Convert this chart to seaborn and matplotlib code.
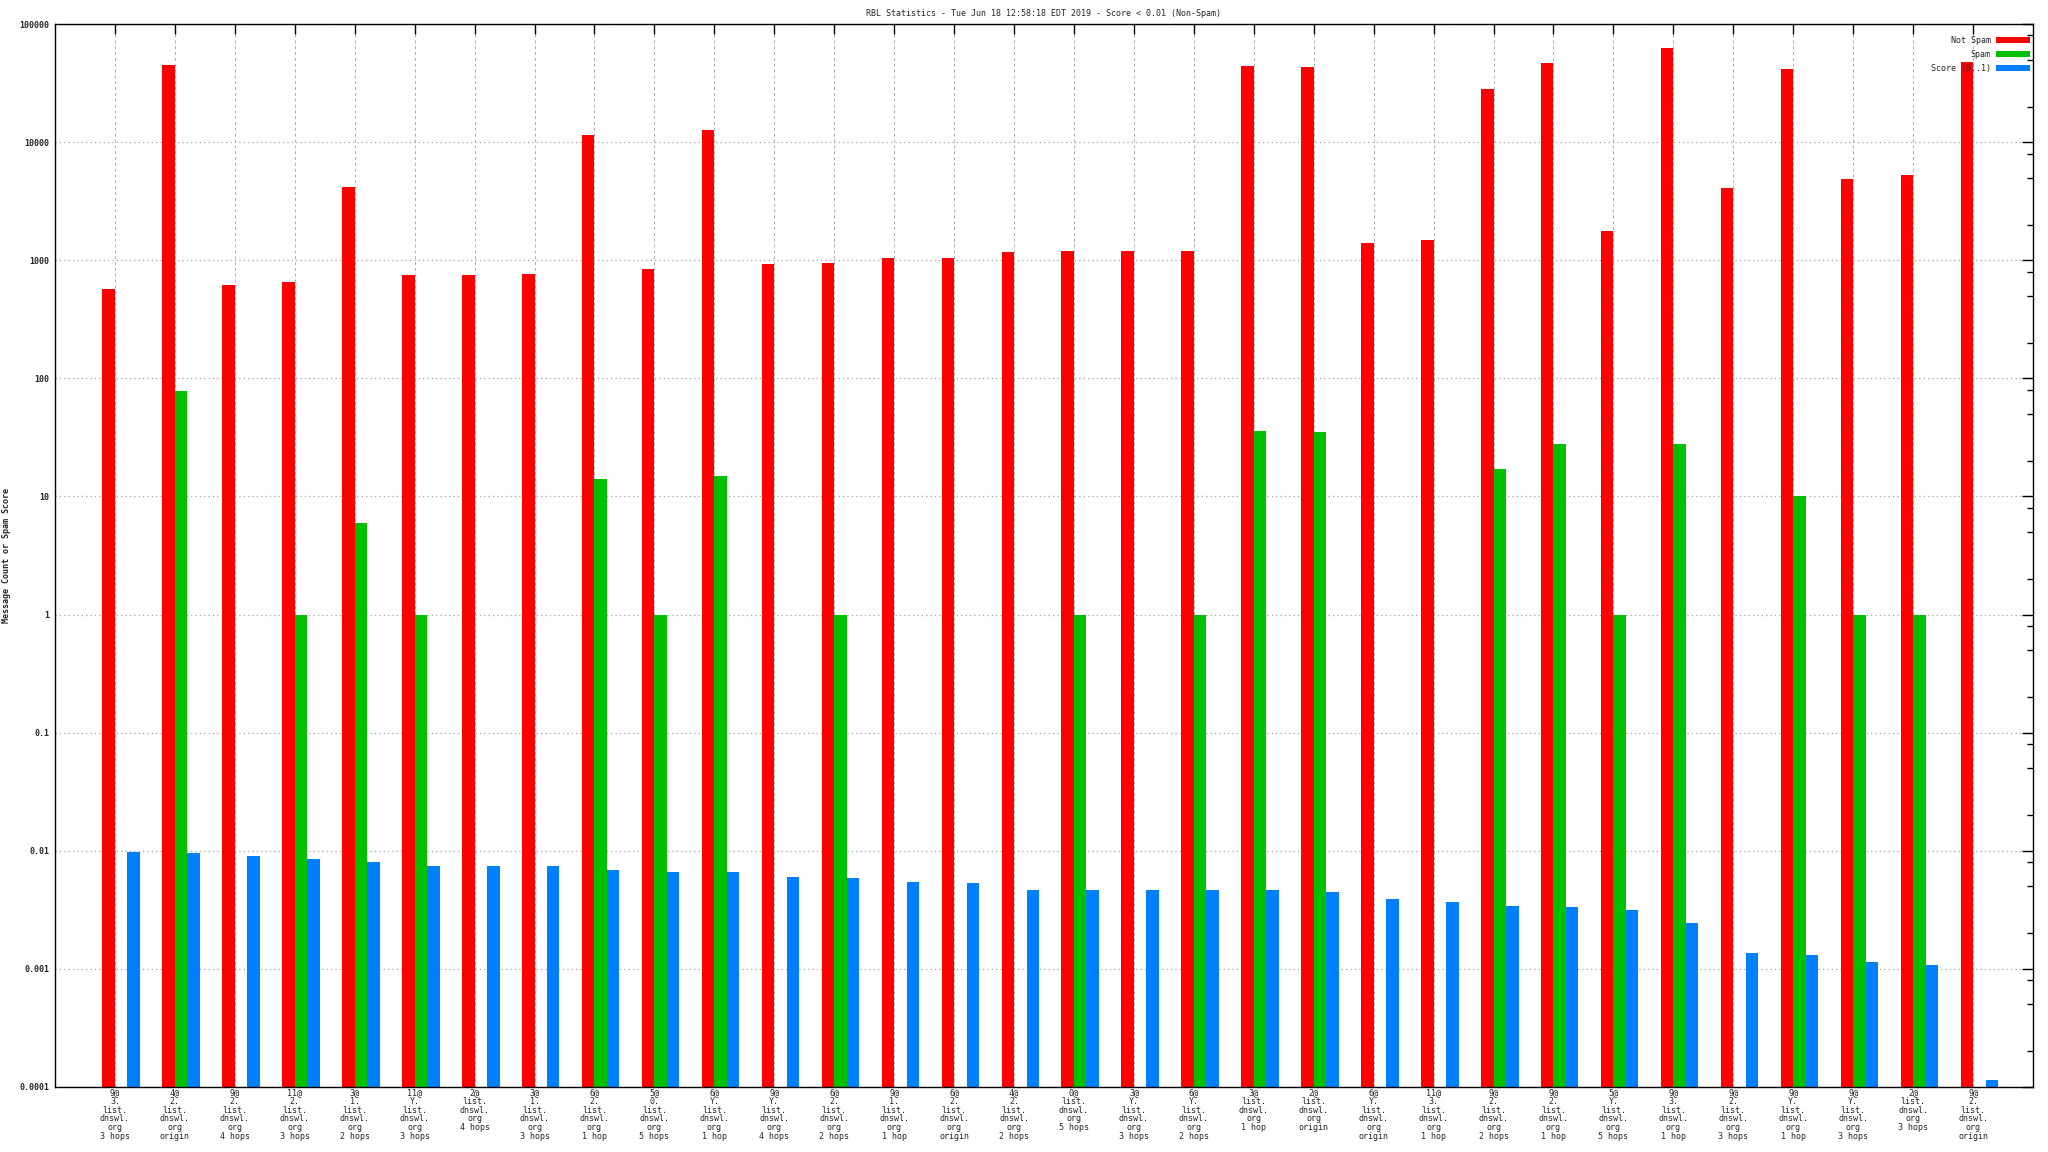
import numpy as np
import pandas as pd
import matplotlib
matplotlib.use("Agg")
import matplotlib.pyplot as plt
import seaborn as sns
from matplotlib.ticker import LogLocator, NullFormatter

# ---------------- data ----------------
categories = [
    "9@\n3.\nlist.\ndnswl.\norg\n3 hops",
    "4@\n2.\nlist.\ndnswl.\norg\norigin",
    "9@\n2.\nlist.\ndnswl.\norg\n4 hops",
    "11@\n2.\nlist.\ndnswl.\norg\n3 hops",
    "3@\n1.\nlist.\ndnswl.\norg\n2 hops",
    "11@\nY.\nlist.\ndnswl.\norg\n3 hops",
    "2@\nlist.\ndnswl.\norg\n4 hops",
    "3@\n1.\nlist.\ndnswl.\norg\n3 hops",
    "6@\n2.\nlist.\ndnswl.\norg\n1 hop",
    "5@\n0.\nlist.\ndnswl.\norg\n5 hops",
    "6@\nY.\nlist.\ndnswl.\norg\n1 hop",
    "9@\nY.\nlist.\ndnswl.\norg\n4 hops",
    "6@\n2.\nlist.\ndnswl.\norg\n2 hops",
    "9@\n1.\nlist.\ndnswl.\norg\n1 hop",
    "6@\n2.\nlist.\ndnswl.\norg\norigin",
    "4@\n2.\nlist.\ndnswl.\norg\n2 hops",
    "0@\nlist.\ndnswl.\norg\n5 hops",
    "3@\nY.\nlist.\ndnswl.\norg\n3 hops",
    "6@\nY.\nlist.\ndnswl.\norg\n2 hops",
    "3@\nlist.\ndnswl.\norg\n1 hop",
    "2@\nlist.\ndnswl.\norg\norigin",
    "6@\nY.\nlist.\ndnswl.\norg\norigin",
    "11@\n3.\nlist.\ndnswl.\norg\n1 hop",
    "9@\n2.\nlist.\ndnswl.\norg\n2 hops",
    "9@\n2.\nlist.\ndnswl.\norg\n1 hop",
    "5@\nY.\nlist.\ndnswl.\norg\n5 hops",
    "9@\n3.\nlist.\ndnswl.\norg\n1 hop",
    "9@\n2.\nlist.\ndnswl.\norg\n3 hops",
    "9@\nY.\nlist.\ndnswl.\norg\n1 hop",
    "9@\nY.\nlist.\ndnswl.\norg\n3 hops",
    "2@\nlist.\ndnswl.\norg\n3 hops",
    "9@\n2.\nlist.\ndnswl.\norg\norigin",
]

not_spam = [571, 45200, 618, 655, 4180, 751, 751, 766, 11500, 845, 12700,
            931, 949, 1047, 1047, 1177, 1200, 1200, 1200, 44400, 43500,
            1400, 1490, 28300, 47000, 1770, 63000, 4100, 41800, 4890, 5280,
            48000]

spam = [0, 78, 0, 1, 6, 1, 0, 0, 14, 1, 15, 0, 1, 0, 0, 0, 1, 0, 1, 36, 35,
        0, 0, 17, 28, 1, 28, 0, 10, 1, 1, 0]

score = [0.00968, 0.00949, 0.00896, 0.00845, 0.00797, 0.00737, 0.00737,
         0.00737, 0.00681, 0.00655, 0.00655, 0.00605, 0.00583, 0.00539,
         0.00529, 0.00470, 0.00470, 0.00470, 0.00461, 0.00461, 0.00452,
         0.00394, 0.00372, 0.00338, 0.00331, 0.00318, 0.00247, 0.00135,
         0.00132, 0.00115, 0.00107, 0.000115]

series_names = ["Not Spam", "Spam", "Score (0..1)"]

y_ticks = [1e-4, 1e-3, 1e-2, 1e-1, 1, 10, 100, 1000, 10000, 100000]
y_tick_labels = ["0.0001", "0.001", "0.01", "0.1", "1", "10", "100",
                 "1000", "10000", "100000"]

title = "RBL Statistics - Tue Jun 18 12:58:18 EDT 2019 - Score < 0.01 (Non-Spam)"
y_label = "Message Count or Spam Score"

# ---------------- style ----------------
colors = ["#ff0000", "#00c000", "#0080ff"]
bar_w = 0.2083
offsets = [-bar_w / 2, bar_w / 2, bar_w * 1.5]

sns.set_theme(style="white")
plt.rcParams["font.family"] = ["DejaVu Sans Mono", "DejaVu Sans"]

W, H = 2048, 1152
fig = plt.figure(figsize=(W / 100, H / 100), dpi=100)
L, R, T, B = 55, 2033, 24, 1087
ax = fig.add_axes([L / W, 1 - B / H, (R - L) / W, (B - T) / H])

n = len(categories)
for name, vals, col, off in zip(series_names, [not_spam, spam, score], colors, offsets):
    df = pd.DataFrame({"pos": np.arange(n) + off, "val": vals})
    df = df[df["val"] > 0]
    sns.barplot(data=df, x="pos", y="val", native_scale=True, orient="x",
                width=bar_w, color=col, saturation=1, errorbar=None,
                linewidth=0, label=name, ax=ax, log_scale=(False, True))

ax.set_yscale("log")
ax.set_ylim(1e-4, 1e5)
ax.set_xlim(-1, n)

ax.set_xticks(np.arange(n))
ax.set_xticklabels(categories, fontsize=6, linespacing=0.95,
                   multialignment="center")
ax.set_yticks(y_ticks)
ax.set_yticklabels(y_tick_labels, fontsize=6, fontweight="bold")
ax.yaxis.set_minor_locator(LogLocator(base=10, subs=(2, 5, 8), numticks=50))
ax.yaxis.set_minor_formatter(NullFormatter())
ax.xaxis.set_minor_locator(matplotlib.ticker.NullLocator())

ax.tick_params(axis="both", which="both", direction="in", top=True,
               right=True, color="black")
ax.tick_params(axis="y", which="major", length=8, width=1, pad=4)
ax.tick_params(axis="y", which="minor", length=4, width=1)
ax.tick_params(axis="x", which="major", length=7, width=1, pad=1)

ax.set_axisbelow(True)
ax.grid(axis="y", which="major", color="#a0a0a0", linestyle=(0, (1, 2.5)),
        linewidth=0.9)
ax.grid(axis="x", which="major", color="#a0a0a0", linestyle=(0, (3.5, 3.5)),
        linewidth=0.6)

for s in ax.spines.values():
    s.set_color("black")
    s.set_linewidth(1.0)
    s.set_visible(True)

ax.set_xlabel("")
ax.set_ylabel("")
fig.text(7 / W, 1 - ((T + B) / 2) / H, y_label, rotation=90, ha="center",
         va="center", fontsize=6, fontweight="bold")
ax.set_title(title, fontsize=6, pad=6)

leg = ax.legend(loc="upper right",
                bbox_to_anchor=((2030 - L) / (R - L), 1 - (36 - T) / (B - T)),
                frameon=False, markerfirst=False, fontsize=6,
                handlelength=4.1, handleheight=0.85, labelspacing=0.6,
                handletextpad=0.6, borderpad=0, borderaxespad=0)

fig.savefig("out.png", dpi=100)
